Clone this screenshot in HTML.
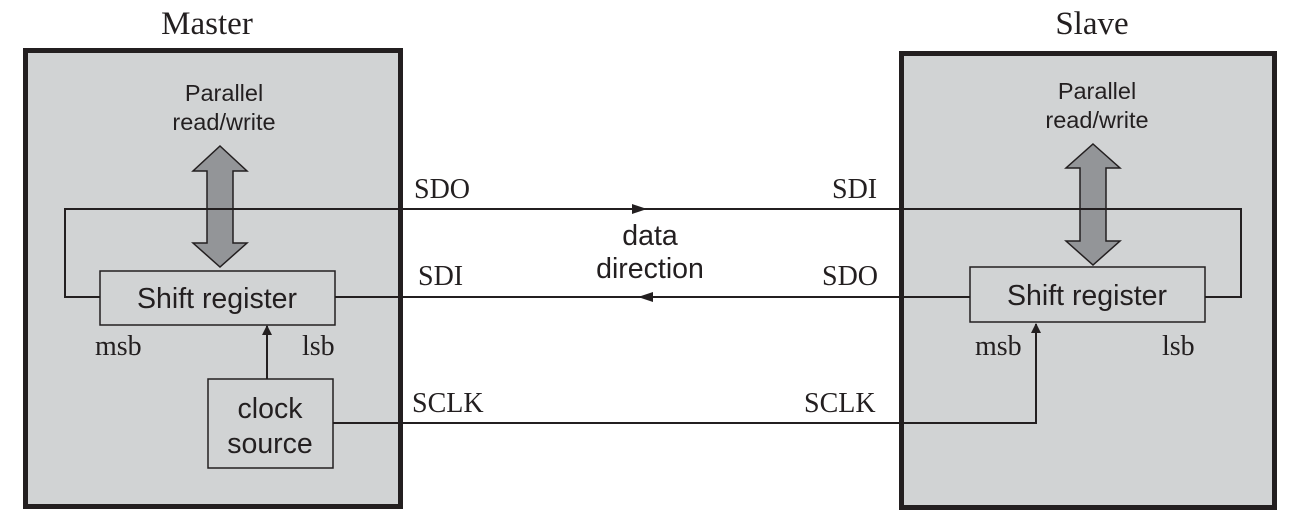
<!DOCTYPE html>
<html><head><meta charset="utf-8"><style>
body{margin:0;background:#fff;}
svg{display:block}
.serif{font-family:"Liberation Serif",serif;font-size:28px;fill:#231f20}
.sans{font-family:"Liberation Sans",sans-serif;fill:#231f20}
.title{font-size:33px}
</style></head><body>
<svg width="1294" height="516" viewBox="0 0 1294 516">
<defs>
<marker id="ah" markerWidth="10" markerHeight="10" refX="9" refY="5" orient="auto" markerUnits="userSpaceOnUse"><path d="M0,0 L10,5 L0,10z" fill="#231f20"/></marker>
</defs>
<g>
<rect x="25.5" y="50.5" width="375" height="456" fill="#d1d3d4" stroke="#231f20" stroke-width="5"/>
<text x="207" y="34" text-anchor="middle" class="serif title">Master</text>
<text x="224" y="101" text-anchor="middle" class="sans" font-size="23.5">Parallel</text>
<text x="224" y="130" text-anchor="middle" class="sans" font-size="23.5">read/write</text>
<path d="M220,146 L247,171 L233,171 L233,243 L247,243 L220,267 L193,243 L207,243 L207,171 L193,171Z" fill="#939598" stroke="#231f20" stroke-width="1.5"/>
<rect x="100" y="271" width="235" height="54" fill="#d1d3d4" stroke="#231f20" stroke-width="1.5"/>
<text x="217" y="308" text-anchor="middle" class="sans" font-size="28.5">Shift register</text>
<text x="95" y="355" class="serif">msb</text>
<text x="302" y="355" class="serif">lsb</text>
<rect x="208" y="379" width="125" height="89" fill="#d1d3d4" stroke="#231f20" stroke-width="1.5"/>
<text x="270" y="418" text-anchor="middle" class="sans" font-size="28.5">clock</text>
<text x="270" y="453" text-anchor="middle" class="sans" font-size="28.5">source</text>
<line x1="267" y1="379" x2="267" y2="326" stroke="#231f20" stroke-width="2" marker-end="url(#ah)"/>
</g>
<g>
<rect x="901.5" y="53.5" width="373" height="454" fill="#d1d3d4" stroke="#231f20" stroke-width="5"/>
<text x="1092" y="34" text-anchor="middle" class="serif title">Slave</text>
<text x="1097" y="99" text-anchor="middle" class="sans" font-size="23.5">Parallel</text>
<text x="1097" y="128" text-anchor="middle" class="sans" font-size="23.5">read/write</text>
<path d="M1093,144 L1120,168 L1106,168 L1106,241 L1120,241 L1093,265 L1066,241 L1080,241 L1080,168 L1066,168Z" fill="#939598" stroke="#231f20" stroke-width="1.5"/>
<rect x="970" y="267" width="235" height="55" fill="#d1d3d4" stroke="#231f20" stroke-width="1.5"/>
<text x="1087" y="305" text-anchor="middle" class="sans" font-size="28.5">Shift register</text>
<text x="975" y="355" class="serif">msb</text>
<text x="1162" y="355" class="serif">lsb</text>
</g>
<g stroke="#231f20" stroke-width="2" fill="none">
<polyline points="100,297 65,297 65,209 1241,209 1241,297 1205,297"/>
<line x1="335" y1="297" x2="970" y2="297"/>
<polyline points="333,423 1036,423 1036,324" marker-end="url(#ah)"/>
</g>
<path d="M647,209 L632,204 L632,214Z" fill="#231f20"/>
<path d="M638,297 L653,292 L653,302Z" fill="#231f20"/>
<text x="414" y="198" class="serif">SDO</text>
<text x="832" y="198" class="serif">SDI</text>
<text x="418" y="285" class="serif">SDI</text>
<text x="822" y="285" class="serif">SDO</text>
<text x="412" y="412" class="serif">SCLK</text>
<text x="804" y="412" class="serif">SCLK</text>
<text x="650" y="245" text-anchor="middle" class="sans" font-size="28.5">data</text>
<text x="650" y="278" text-anchor="middle" class="sans" font-size="28.5">direction</text>
</svg>
</body></html>
